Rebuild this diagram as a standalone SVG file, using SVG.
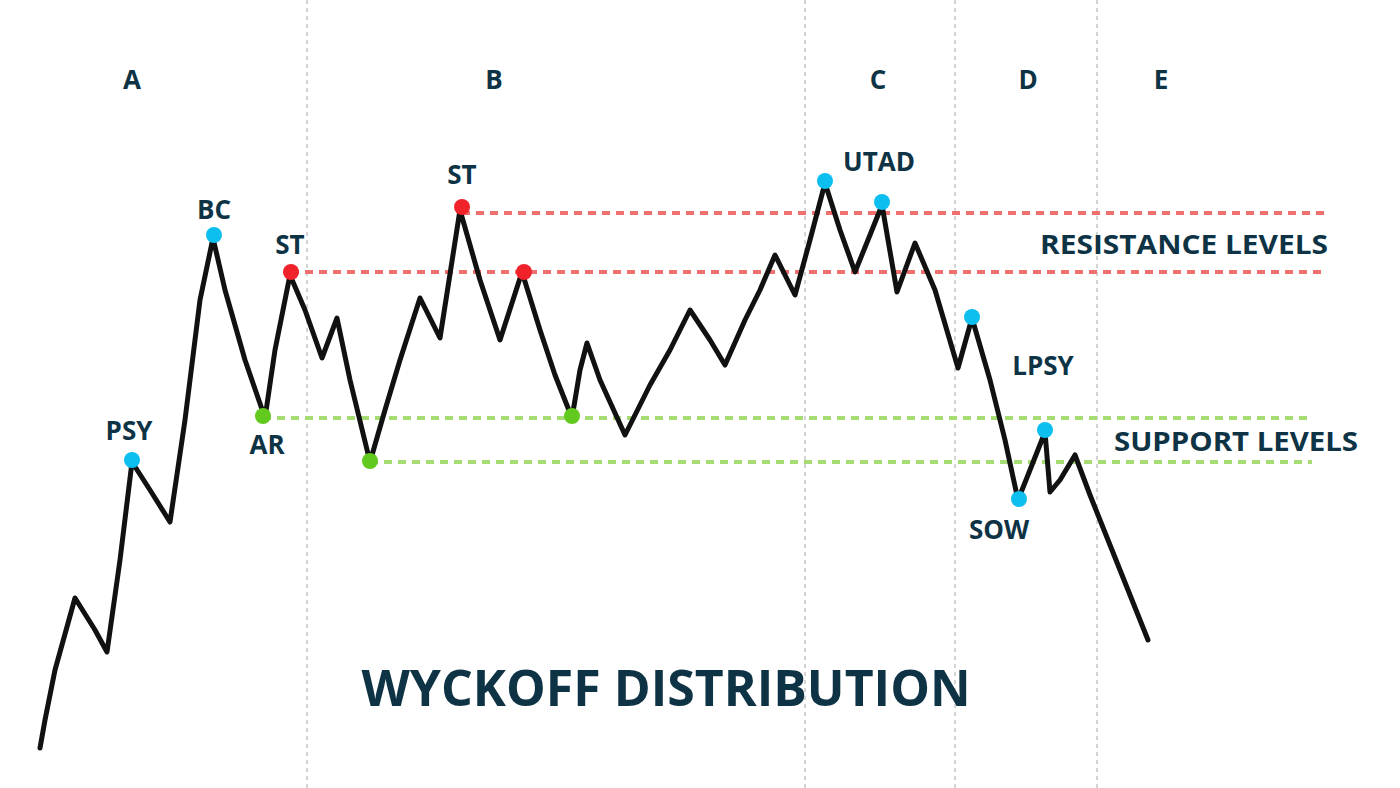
<svg xmlns="http://www.w3.org/2000/svg" width="1400" height="788" viewBox="0 0 1400 788">
<style>
.t{font-family:"Open Sans","Liberation Sans",sans-serif;font-weight:700;fill:#0d3345}
.v{stroke:#aaa;stroke-width:1;stroke-dasharray:4 4}
.r{stroke:#f07070;stroke-width:4;stroke-dasharray:8 6}
.g{stroke:#a6dc74;stroke-width:4;stroke-dasharray:8 6}
.b{fill:#0dbfef}.rd{fill:#f0222a}.gr{fill:#62c91f}
</style>
<rect width="1400" height="788" fill="#fff"/>
<g id="grid">
<line class="v" x1="307" y1="0" x2="307" y2="788"/>
<line class="v" x1="805" y1="0" x2="805" y2="788"/>
<line class="v" x1="955" y1="0" x2="955" y2="788"/>
<line class="v" x1="1097" y1="0" x2="1097" y2="788"/>
</g>
<g id="levels">
<line class="r" x1="462" y1="213" x2="1325" y2="213"/>
<line class="r" x1="291" y1="272" x2="1325" y2="272"/>
<line class="g" x1="263" y1="418" x2="1312" y2="418"/>
<line class="g" x1="370" y1="462" x2="1312" y2="462"/>
</g>
<g id="price">
<polyline fill="none" stroke="#111" stroke-width="5" stroke-linejoin="round" stroke-linecap="round" points="40,748 45,720 55,670 75,598 95,630 107,652 120,560 132,462 150,490 170,522 185,420 200,300 213,238 225,290 245,360 265,418 275,350 290,275 305,310 322,358 337,318 350,380 370,462 385,410 400,360 420,298 440,338 460,210 480,280 500,340 522,272 540,330 555,375 572,418 580,370 587,343 600,380 625,435 650,385 670,350 690,310 710,340 725,365 745,320 760,290 775,255 795,295 810,240 825,183 840,230 855,272 870,235 882,205 897,292 915,243 935,290 958,368 972,318 990,380 1005,440 1018,500 1030,470 1045,432 1050,492 1060,480 1075,455 1090,495 1110,545 1130,595 1148,640"/>
</g>
<g id="points">
<circle class="b" cx="132" cy="460" r="8"/>
<circle class="b" cx="214" cy="235" r="8"/>
<circle class="b" cx="825" cy="181" r="8"/>
<circle class="b" cx="882" cy="202" r="8"/>
<circle class="b" cx="972" cy="317" r="8"/>
<circle class="b" cx="1045" cy="430" r="8"/>
<circle class="b" cx="1019" cy="499" r="8"/>
<circle class="rd" cx="291" cy="272" r="8"/>
<circle class="rd" cx="462" cy="207" r="8"/>
<circle class="rd" cx="524" cy="272" r="8"/>
<circle class="gr" cx="263" cy="416" r="8"/>
<circle class="gr" cx="370" cy="461" r="8"/>
<circle class="gr" cx="572" cy="416" r="8"/>
</g>
<g id="labels" class="t" font-size="26" text-anchor="middle">
<text x="132" y="89">A</text>
<text x="494" y="89">B</text>
<text x="878" y="89">C</text>
<text x="1028" y="89">D</text>
<text x="1161" y="89">E</text>
<text x="129" y="440">PSY</text>
<text x="214" y="219">BC</text>
<text x="290" y="254">ST</text>
<text x="267" y="454">AR</text>
<text x="462" y="184">ST</text>
<text x="879" y="171">UTAD</text>
<text x="1043" y="375">LPSY</text>
<text x="999" y="539">SOW</text>
<text x="1184" y="254" textLength="288" lengthAdjust="spacingAndGlyphs">RESISTANCE LEVELS</text>
<text x="1236" y="451" textLength="244" lengthAdjust="spacingAndGlyphs">SUPPORT LEVELS</text>
<text x="666" y="706" font-size="50">WYCKOFF DISTRIBUTION</text>
</g>
</svg>
